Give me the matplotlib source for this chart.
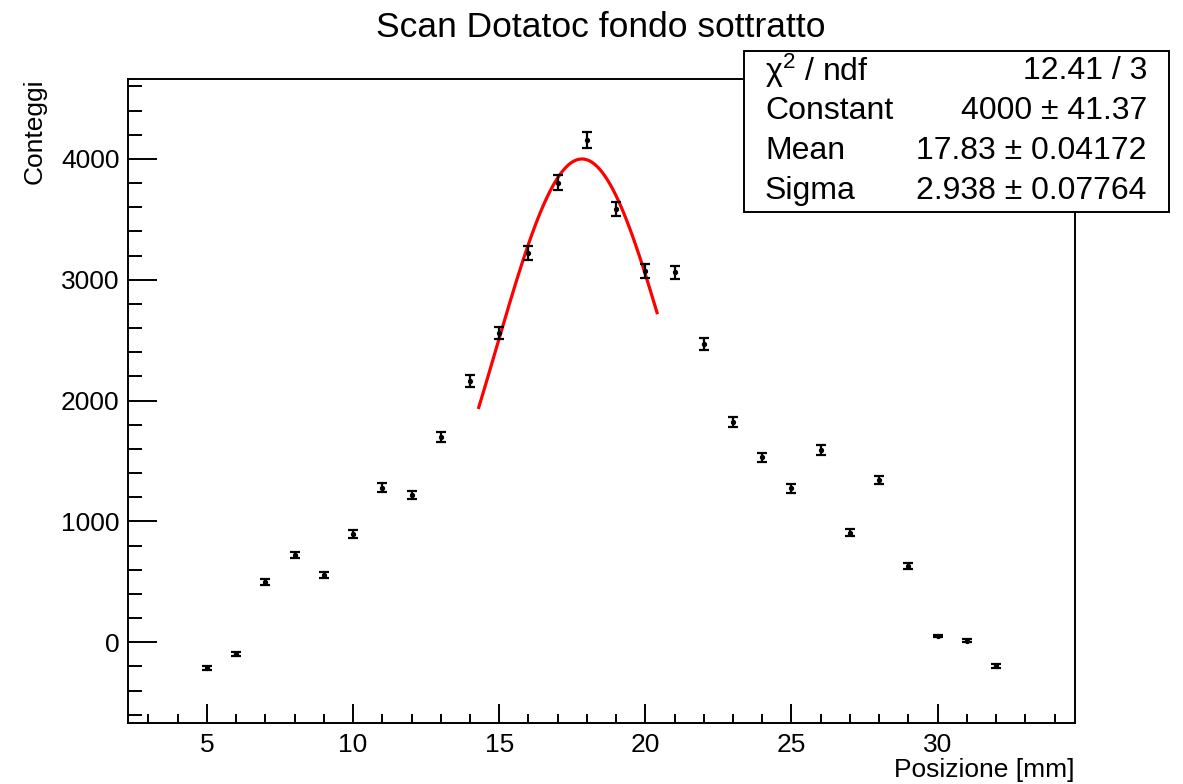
import matplotlib
matplotlib.use('Agg')
import matplotlib.pyplot as plt
import numpy as np
from matplotlib.patches import Rectangle
from matplotlib.ticker import MultipleLocator

plt.rcParams['font.family'] = ['Liberation Sans', 'DejaVu Sans']
plt.rcParams['mathtext.fontset'] = 'custom'
plt.rcParams['mathtext.rm'] = 'Liberation Sans'
plt.rcParams['mathtext.it'] = 'Liberation Sans:italic'

# scan data, background subtracted
posizione = [5, 6, 7, 8, 9, 10, 11, 12, 13, 14, 15, 16, 17, 18,
             19, 20, 21, 22, 23, 24, 25, 26, 27, 28, 29, 30, 31, 32]
conteggi = [-215, -99, 499, 723, 557, 897, 1280, 1219, 1700, 2163, 2558, 3220, 3805, 4156,
            3584, 3074, 3063, 2469, 1824, 1531, 1275, 1589, 907, 1343, 634, 52, 13, -196]
errori = [15, 15, 22, 27, 24, 30, 36, 35, 41, 46, 51, 57, 62, 64,
          60, 55, 55, 50, 43, 39, 36, 40, 30, 37, 25, 12, 12, 15]

# gaussian fit results
chi2, ndf = 12.41, 3
constant, constant_err = 4000, 41.37
mean, mean_err = 17.83, 0.04172
sigma, sigma_err = 2.938, 0.07764
fit_range = (14.3, 20.4)

W, H = 1183, 784
fig = plt.figure(figsize=(W / 100, H / 100), dpi=100)
ax = fig.add_axes([128 / W, 1 - 723 / H, (1075 - 128) / W, (723 - 79) / H])

ax.errorbar(posizione, conteggi, yerr=errori, fmt='o', ms=2.8, color='black',
            ecolor='black', elinewidth=1.6, capsize=3.5, capthick=1.6, zorder=3)

xf = np.linspace(fit_range[0], fit_range[1], 300)
yf = constant * np.exp(-0.5 * ((xf - mean) / sigma) ** 2)
ax.plot(xf, yf, color='#ff0000', lw=2.3, zorder=2)

ax.set_xlim(2.3, 34.7)
ax.set_ylim(-668, 4662)
ax.xaxis.set_major_locator(MultipleLocator(5))
ax.xaxis.set_minor_locator(MultipleLocator(1))
ax.yaxis.set_major_locator(MultipleLocator(1000))
ax.yaxis.set_minor_locator(MultipleLocator(200))
ax.tick_params(which='both', direction='in', top=False, right=False,
               width=1.4, labelsize=19)
ax.tick_params(axis='x', which='major', length=13.5, pad=7)
ax.tick_params(axis='x', which='minor', length=6.8)
ax.tick_params(axis='y', which='major', length=21, pad=6)
ax.tick_params(axis='y', which='minor', length=10)
for s in ax.spines.values():
    s.set_linewidth(1.4)

fig.text(601 / W, 1 - 37 / H, 'Scan Dotatoc fondo sottratto', ha='center',
         va='baseline', fontsize=25.5)
fig.text(35 / W, 1 - 78 / H, 'Conteggi', rotation=90, ha='center', va='top',
         fontsize=19)
fig.text(1075 / W, 1 - 777 / H, 'Posizione [mm]', ha='right', va='baseline',
         fontsize=19)

# stats box
bx0, by0, bx1, by1 = 744, 51, 1169, 212
fig.patches.append(Rectangle((bx0 / W, 1 - by1 / H), (bx1 - bx0) / W, (by1 - by0) / H,
                             transform=fig.transFigure, facecolor='white',
                             edgecolor='black', lw=1.4, zorder=5))
rows = [
    ('\u03c7$^{2}$ / ndf', f'{chi2:.2f} / {ndf}'),
    ('Constant', f'{constant} \u00b1 {constant_err:.2f}'),
    ('Mean', f'{mean:.2f} \u00b1 {mean_err}'),
    ('Sigma', f'{sigma} \u00b1 {sigma_err}'),
]
for i, (name, val) in enumerate(rows):
    yc = 1 - (71 + 40 * i) / H
    fig.text(765 / W, yc, name, ha='left', va='center', fontsize=23, zorder=6)
    fig.text(1147 / W, yc, val, ha='right', va='center', fontsize=23, zorder=6)

fig.savefig('out.png', dpi=100)
